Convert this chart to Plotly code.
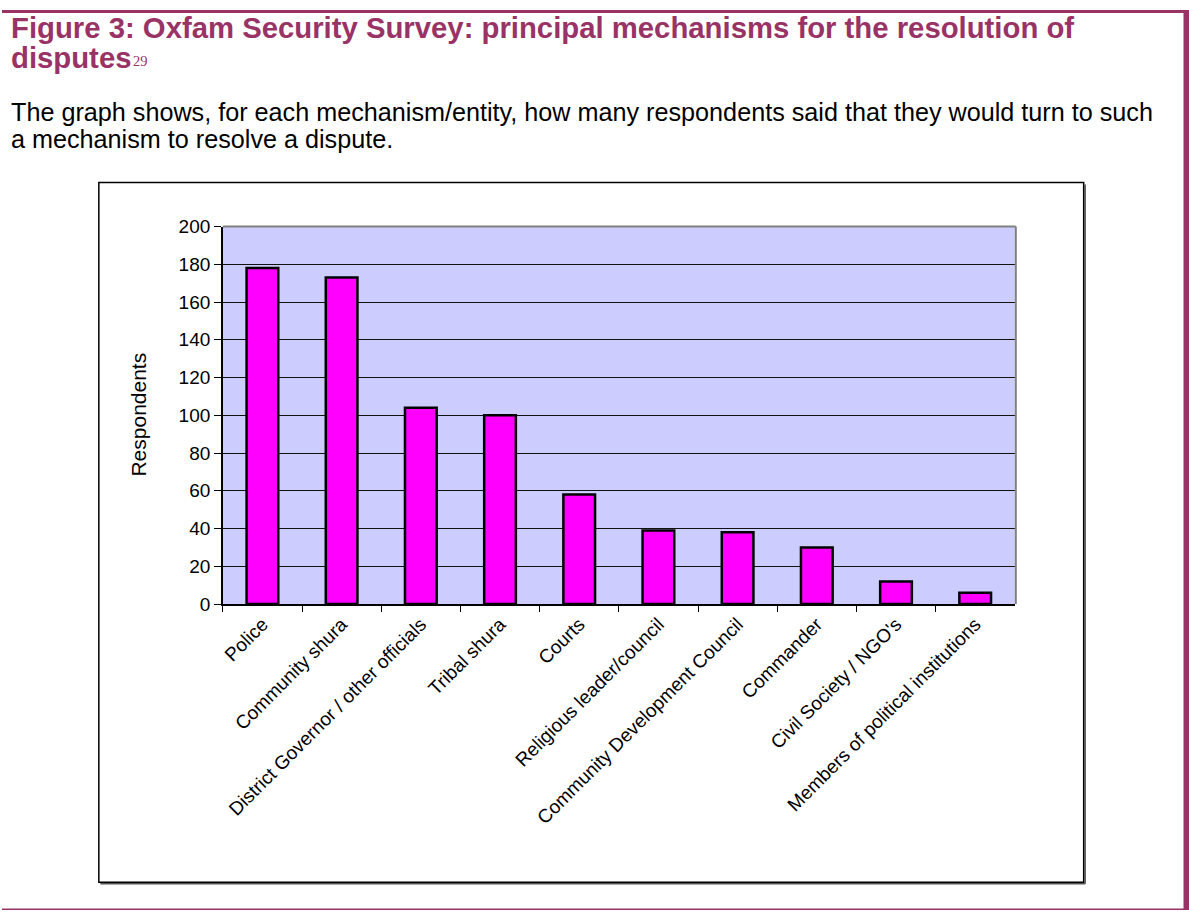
import plotly.graph_objects as go

W, H = 1189, 921

categories = ["Police", "Community shura", "District Governor / other officials",
              "Tribal shura", "Courts", "Religious leader/council",
              "Community Development Council", "Commander",
              "Civil Society / NGO's", "Members of political institutions"]
respondents = [178, 173, 104, 100, 58, 39, 38, 30, 12, 6]
y_ticks = [0, 20, 40, 60, 80, 100, 120, 140, 160, 180, 200]

PURPLE = "#993366"
FONT = "Liberation Sans, Arial, sans-serif"

# target (screen) pixel positions -> figure coordinates
OX, OY, SY = 1.5, 10.7, 0.976

def fx(xs):
    return (xs - OX) / W

def fy(ys):
    yf = (ys - OY) / SY
    return 1 - yf / H

PL, PR, PT, PB = 222.7, 1016.0, 227.0, 604.0

fig = go.Figure()
fig.add_trace(go.Bar(
    x=categories, y=respondents,
    marker=dict(color="#FF00FF", line=dict(color="black", width=2.5)),
    width=0.4, hoverinfo="x+y",
))

shapes = [
    # page frame
    dict(type="rect", xref="paper", yref="paper", x0=0, x1=1, y0=1, y1=1 - 3 / H,
         fillcolor=PURPLE, line=dict(width=0), layer="above"),
    dict(type="rect", xref="paper", yref="paper", x0=fx(1185), x1=1, y0=0, y1=1,
         fillcolor=PURPLE, line=dict(width=0), layer="above"),
    dict(type="rect", xref="paper", yref="paper", x0=0, x1=1, y0=0, y1=1.5 / H,
         fillcolor=PURPLE, line=dict(width=0), layer="above"),
    # chart box shadow + box
    dict(type="line", xref="paper", yref="paper", x0=fx(100), x1=fx(1086.5), y0=fy(883.5), y1=fy(883.5),
         line=dict(color="#555555", width=1.5), layer="below"),
    dict(type="line", xref="paper", yref="paper", x0=fx(1086.5), x1=fx(1086.5), y0=fy(185), y1=fy(883.5),
         line=dict(color="#555555", width=1.5), layer="below"),
    dict(type="rect", xref="paper", yref="paper", x0=fx(98.5), x1=fx(1085), y0=fy(183), y1=fy(882),
         line=dict(color="black", width=1.5), layer="below"),
    # plot area gray frame (top/right)
    dict(type="line", xref="paper", yref="paper", x0=fx(PL), x1=fx(PR + 1), y0=fy(PT), y1=fy(PT),
         line=dict(color="#808080", width=2), layer="above"),
    dict(type="line", xref="paper", yref="paper", x0=fx(PR + 1), x1=fx(PR + 1), y0=fy(PT), y1=fy(PB),
         line=dict(color="#808080", width=2), layer="above"),
]

annotations = [
    dict(text="<b>Figure 3: Oxfam Security Survey: principal mechanisms for the resolution of</b>",
         x=fx(9), y=fy(28), xanchor="left", yanchor="middle",
         font=dict(family=FONT, size=29.3, color=PURPLE)),
    dict(text="<b>disputes</b>",
         x=fx(9), y=fy(58), xanchor="left", yanchor="middle",
         font=dict(family=FONT, size=29.3, color=PURPLE)),
    dict(text="29",
         x=fx(131), y=fy(61.5), xanchor="left", yanchor="middle",
         font=dict(family="Liberation Serif, Times New Roman, serif", size=14.5, color=PURPLE)),
    dict(text="The graph shows, for each mechanism/entity, how many respondents said that they would turn to such",
         x=fx(9), y=fy(113), xanchor="left", yanchor="middle",
         font=dict(family=FONT, size=25.2, color="black")),
    dict(text="a mechanism to resolve a dispute.",
         x=fx(9), y=fy(139.5), xanchor="left", yanchor="middle",
         font=dict(family=FONT, size=25.2, color="black")),
    dict(text="Respondents", textangle=-90,
         x=fx(138.5), y=fy(415), xanchor="center", yanchor="middle",
         font=dict(family=FONT, size=21, color="black")),
]
for a in annotations:
    a.update(xref="paper", yref="paper", showarrow=False)

fig.update_layout(
    width=W, height=H,
    margin=dict(l=0, r=0, t=0, b=0),
    paper_bgcolor="white",
    plot_bgcolor="#CCCCFF",
    showlegend=False,
    shapes=shapes,
    annotations=annotations,
    xaxis=dict(
        domain=[fx(PL), fx(PR)],
        type="category",
        tickangle=-45,
        tickson="boundaries",
        ticks="outside", ticklen=6, tickcolor="black", tickwidth=1,
        showline=True, linecolor="black", linewidth=1.5,
        showgrid=False,
        tickfont=dict(family=FONT, size=19, color="black"),
        fixedrange=True,
    ),
    yaxis=dict(
        domain=[fy(PB), fy(PT)],
        range=[0, 200],
        tickvals=y_ticks,
        ticks="outside", ticklen=7, tickcolor="black", tickwidth=1,
        showline=True, linecolor="black", linewidth=1.5,
        showgrid=True, gridcolor="#111111", gridwidth=1,
        zeroline=False,
        tickfont=dict(family=FONT, size=19, color="black"),
        fixedrange=True,
    ),
)

fig.write_html("out.html")
